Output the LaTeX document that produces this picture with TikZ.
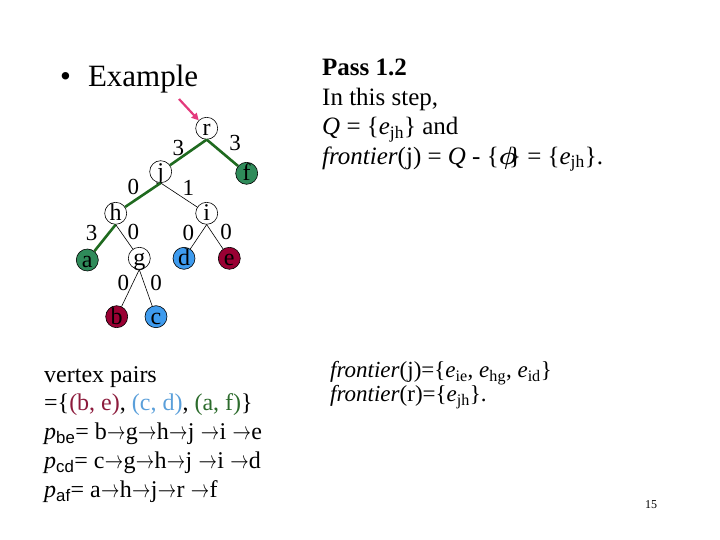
\documentclass[tikz,border=0pt]{standalone}
\usepackage{fontspec}
\usepackage{graphicx}
\setmainfont{Liberation Serif}
\newfontfamily\arialfont{Liberation Sans}
\usetikzlibrary{arrows.meta}
\definecolor{LeafGreen}{HTML}{2F8B5A}
\definecolor{LeafRed}{HTML}{990033}
\definecolor{LeafBlue}{HTML}{3E9BEE}
\definecolor{PathGreen}{HTML}{1F6A1F}
\definecolor{PointerPink}{HTML}{E33A7C}
\definecolor{PairRed}{HTML}{8C1B3C}
\definecolor{PairBlue}{HTML}{5A9FDA}
\definecolor{PairGreen}{HTML}{2C6B2C}
\newcommand{\edgesub}[2]{\textit{#1}\textsubscript{#2}}
\newcommand{\psub}[1]{\textit{p}\textsubscript{\arialfont #1}}
\newcommand{\nxt}{\hbox to 19pt{\hss\scalebox{0.74}[1]{$\rightarrow$}\hss}}

\begin{document}
\begin{tikzpicture}[
  x=1pt,y=-1pt,
  vertex/.style={
    circle,
    draw=black,
    line width=0.6pt,
    fill=white,
    minimum size=22pt,
    inner sep=0pt,
    text height=15pt,
    text depth=0pt,
    font=\fontsize{24}{24}\selectfont
  },
  leafgreen/.style={vertex, fill=LeafGreen},
  leafred/.style={vertex, fill=LeafRed},
  leafblue/.style={vertex, fill=LeafBlue},
  pathedge/.style={draw=PathGreen, line width=2.6pt},
  treeedge/.style={draw=black, line width=0.6pt},
  weight/.style={font=\fontsize{23}{23}\selectfont, inner sep=0pt},
  pointer/.style={
    -{Triangle[length=7pt,width=7pt]},
    draw=PointerPink,
    line width=2.2pt
  },
  slidetext/.style={
    anchor=north west,
    align=left,
    inner sep=0pt
  }
]
\useasboundingbox (0,0) rectangle (720,540);

% -------------------------------------------------
% Title
% -------------------------------------------------
\node[anchor=base west, inner sep=0pt, font=\fontsize{31}{31}\selectfont]
  (title) at (60,87) {•\hspace{17pt}Example};

% -------------------------------------------------
% Tree
% -------------------------------------------------
\node[vertex]    (r) at (206.7,128.3) {r};
\node[vertex]    (j) at (160.7,171.7) {j};
\node[leafgreen] (f) at (246.7,173.3) {f};
\node[vertex]    (h) at (115.7,213.3) {h};
\node[vertex]    (i) at (206.7,213.3) {i};
\node[leafgreen] (a) at (87.3,260)    {a};
\node[vertex]    (g) at (139.3,258.3) {g};
\node[leafblue]  (d) at (184,258.3)   {d};
\node[leafred]   (e) at (229.3,258.3) {e};
\node[leafred]   (b) at (116.7,316.7) {b};
\node[leafblue]  (c) at (156,316.7)   {c};

\draw[pathedge] (r.south) -- (j);
\draw[pathedge] (r.south) -- (f);
\draw[pathedge] (j.south) -- (h);
\draw[pathedge] (h.south) -- (a);
\draw[treeedge] (j.south) -- (i);
\draw[treeedge] (h.south) -- (g);
\draw[treeedge] (i.south) -- (d);
\draw[treeedge] (i.south) -- (e);
\draw[treeedge] (g.south) -- (b);
\draw[treeedge] (g.south) -- (c);

% edge weights
\node[weight] (wrj) at (178.3,148.3) {3};
\node[weight] (wrf) at (235,143.3)   {3};
\node[weight] (wjh) at (133.3,186.7) {0};
\node[weight] (wji) at (188.3,188.3) {1};
\node[weight] (wha) at (91.7,233.3)  {3};
\node[weight] (whg) at (133.3,231.7) {0};
\node[weight] (wid) at (188.3,233.3) {0};
\node[weight] (wie) at (226,231.7)   {0};
\node[weight] (wgb) at (123.3,283.3) {0};
\node[weight] (wgc) at (156,283.3)   {0};

% pointer to the root
\coordinate (ptr) at (179,99);
\draw[pointer] (ptr) -- (r.north west);

% -------------------------------------------------
% Pass description
% -------------------------------------------------
\node[slidetext, font=\fontsize{25}{29.5}\selectfont] (pass) at (322,59)
{\textbf{Pass 1.2}\\
In this step,\\
\textit{Q} = \{\edgesub{e}{jh}\} and\\
\textit{frontier}(j) = \textit{Q} - \{{\boldmath$\phi$}\kern-0.3em\} = \{\edgesub{e}{jh}\}.};

% -------------------------------------------------
% Vertex pairs and paths
% -------------------------------------------------
\node[slidetext, font=\fontsize{24}{28.8}\selectfont] (pairs) at (44,366)
{vertex pairs\\
=\{\textcolor{PairRed}{(b, e)}, \textcolor{PairBlue}{(c, d)}, \textcolor{PairGreen}{(a, f)}\}\\
\psub{be}= b\nxt g\nxt h\nxt j \nxt i \nxt e\\
\psub{cd}= c\nxt g\nxt h\nxt j \nxt i \nxt d\\
\psub{af}= a\nxt h\nxt j\nxt r \nxt f};

% -------------------------------------------------
% Frontiers
% -------------------------------------------------
\node[slidetext, font=\fontsize{23}{24.5}\selectfont] (front) at (330,361)
{\textit{frontier}(j)=\{\edgesub{e}{ie}, \edgesub{e}{hg}, \edgesub{e}{id}\}\\
\textit{frontier}(r)=\{\edgesub{e}{jh}\}.};

% page number
\node[inner sep=0pt, font=\fontsize{12}{12}\selectfont] (pageno) at (651,505) {15};

\end{tikzpicture}
\end{document}
